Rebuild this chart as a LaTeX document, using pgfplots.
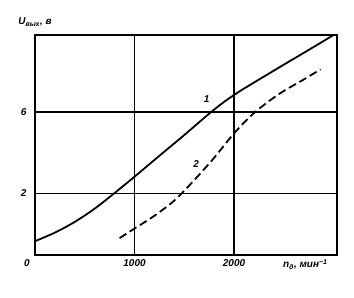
\documentclass[border=0pt]{standalone}
\usepackage{pgfplots}
\pgfplotsset{compat=1.18}
\usepackage{fontspec}
\setmainfont{Liberation Sans}
\begin{document}
\begin{tikzpicture}
\begin{axis}[name=ax, scale only axis, width=302bp, height=220bp,
  xmin=0, xmax=3035, ymin=-1.03, ymax=9.79,
  xtick={1000,2000}, xticklabels={1000,2000}, ytick={2,6},
  extra x ticks={0}, extra x tick labels={0},
  extra x tick style={grid=none, xticklabel style={xshift=-8bp}},
  grid=major, major grid style={black, line width=1.3bp},
  major tick length=0pt,
  axis line style={line width=1.6bp},
  tick label style={font=\fontsize{10}{12}\selectfont\bfseries\itshape},
  /pgf/number format/assume math mode=true,
  /pgf/number format/1000 sep={},
  xticklabel style={yshift=-1bp},
  yticklabel style={xshift=-5bp},
  xlabel={\textit{n}\textsubscript{д}, мин\textsuperscript{−1}},
  xlabel style={at={(axis description cs:0.895,0)}, anchor=north, yshift=-1bp, font=\fontsize{10}{12}\selectfont\bfseries\itshape},
  clip=false,
]
\addplot[black, line width=1.8bp, smooth] coordinates {
(0,-0.35) (200,0.07) (400,0.6) (600,1.25) (800,2.02) (1000,2.82)
(1250,3.85) (1500,4.87) (1750,5.92) (1900,6.5) (2050,7.0) (2200,7.45)
(2500,8.33) (2800,9.2) (3000,9.79)};
\addplot[black, line width=1.8bp, smooth, dash pattern=on 8bp off 4bp] coordinates {
(850,-0.2) (1000,0.27) (1200,0.9) (1400,1.65) (1600,2.65) (1800,3.75)
(2000,4.95) (2200,5.95) (2450,6.88) (2700,7.6) (2870,8.1)};
\node[font=\fontsize{10}{12}\selectfont\bfseries\itshape] at (axis cs:1725,6.62) {1};
\node[font=\fontsize{10}{12}\selectfont\bfseries\itshape] at (axis cs:1620,3.45) {2};
\end{axis}
\node[font=\fontsize{10}{12}\selectfont\bfseries\itshape, anchor=south] at ([shift={(0bp,5bp)}]ax.north west) {\textit{U}\textsubscript{вых}, в};
\pgfresetboundingbox
\path ([shift={(-35bp,-43bp)}]ax.south west) rectangle ([shift={(17bp,35bp)}]ax.north east);
\end{tikzpicture}
\end{document}
